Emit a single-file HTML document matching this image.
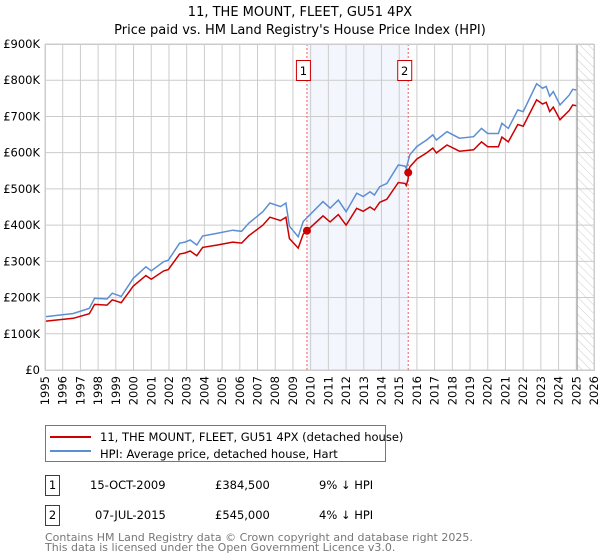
<!DOCTYPE html>
<html><head><meta charset="utf-8"><style>
body{margin:0;background:#fff;font-family:"Liberation Sans","DejaVu Sans",sans-serif;}
svg{display:block}
</style></head><body>
<svg id="chart" width="600" height="560" xmlns="http://www.w3.org/2000/svg" font-family="DejaVu Sans, Liberation Sans, sans-serif">
<defs><pattern id="hatch" width="6" height="6" patternUnits="userSpaceOnUse" patternTransform="rotate(-45)"><line x1="0" y1="0" x2="0" y2="6" stroke="#ccc" stroke-width="1"/></pattern></defs>
<text x="300" y="16" text-anchor="middle" font-size="13">11, THE MOUNT, FLEET, GU51 4PX</text>
<text x="300" y="34" text-anchor="middle" font-size="13">Price paid vs. HM Land Registry's House Price Index (HPI)</text>
<g id="grid"></g><g id="marks"></g>
<rect x="45.5" y="425.5" width="340" height="36" fill="#fff" stroke="#777"/>
<line x1="50" y1="437" x2="91" y2="437" stroke="#cc0000" stroke-width="2"/>
<text x="100" y="441" font-size="11.5">11, THE MOUNT, FLEET, GU51 4PX (detached house)</text>
<line x1="50" y1="451" x2="91" y2="451" stroke="#5b8fd4" stroke-width="2"/>
<text x="100" y="458" font-size="11.5">HPI: Average price, detached house, Hart</text>
<g font-size="11.5">
<rect x="45.5" y="475.5" width="14" height="20" fill="#fff" stroke="#cc0000"/><text x="52.5" y="489" text-anchor="middle">1</text>
<text x="90" y="489">15-OCT-2009</text><text x="215" y="489">£384,500</text><text x="319" y="489">9% ↓ HPI</text></g>
<g font-size="11.5">
<rect x="45.5" y="505.5" width="14" height="20" fill="#fff" stroke="#cc0000"/><text x="52.5" y="519" text-anchor="middle">2</text>
<text x="95" y="519">07-JUL-2015</text><text x="215" y="519">£545,000</text><text x="319" y="519">4% ↓ HPI</text></g>
<text x="45" y="541" font-size="11" fill="#777">Contains HM Land Registry data © Crown copyright and database right 2025.</text>
<text x="45" y="551" font-size="11" fill="#777">This data is licensed under the Open Government Licence v3.0.</text>
</svg>
<script>
const hpiYears=[1995,1996.6,1997.5,1997.8,1998.5,1998.8,1999.3,1999.98,2000.7,2001.0,2001.7,2001.96,2002.6,2002.9,2003.2,2003.57,2003.9,2004.7,2005.6,2006.1,2006.5,2007.3,2007.7,2008.3,2008.6,2008.8,2009.3,2009.58,2010.7,2011.1,2011.56,2012.0,2012.6,2012.97,2013.35,2013.6,2013.9,2014.3,2014.95,2015.33,2015.4,2015.6,2016.0,2016.55,2016.9,2017.1,2017.7,2018.4,2019.2,2019.65,2020.0,2020.6,2020.8,2021.16,2021.7,2022.0,2022.76,2023.1,2023.3,2023.5,2023.7,2024.08,2024.6,2024.8,2025.0];
const hpiValues=[147,156,170,198,196,212,203,253,285,274,299,303,350,353,359,345,370,377,386,383,405,437,461,451,461,397,368,410,465,447,469,437,488,479,492,483,506,515,566,563,557,594,617,635,649,635,658,640,644,667,653,653,681,667,718,713,790,778,783,756,769,732,759,775,773];
const saleDates=[2009.79,2015.51];
const salePrices=[384.5,545];
const saleLabels=["1","2"];
const yTicks=[0,100,200,300,400,500,600,700,800,900];
const yTickLabels=["£0","£100K","£200K","£300K","£400K","£500K","£600K","£700K","£800K","£900K"];
const xTicks=[1995,1996,1997,1998,1999,2000,2001,2002,2003,2004,2005,2006,2007,2008,2009,2010,2011,2012,2013,2014,2015,2016,2017,2018,2019,2020,2021,2022,2023,2024,2025,2026];
const NS="http://www.w3.org/2000/svg";
const X0=45,X1=594,Y0=370,Y1=44;
const xs=t=>X0+(t-1995)/(2026-1995)*(X1-X0);
const ys=v=>Y0-v/900*(Y0-Y1);
function mk(tag,attrs,parent){const e=document.createElementNS(NS,tag);for(const k in attrs)e.setAttribute(k,attrs[k]);parent.appendChild(e);return e;}
const grid=document.getElementById('grid'),marks=document.getElementById('marks');
function hpiAt(t){for(let i=1;i<hpiYears.length;i++){if(t<=hpiYears[i]){const f=(t-hpiYears[i-1])/(hpiYears[i]-hpiYears[i-1]);return hpiValues[i-1]+f*(hpiValues[i]-hpiValues[i-1]);}}return hpiValues[hpiValues.length-1];}
const sh=mk('rect',{x:xs(saleDates[0]),y:Y1,width:xs(saleDates[1])-xs(saleDates[0]),height:Y0-Y1,fill:'#f3f6fd'},grid);


const ht=mk('rect',{x:xs(2025.05),y:Y1,width:X1-xs(2025.05),height:Y0-Y1,fill:'url(#hatch)'},grid);


yTicks.forEach((v,i)=>{
 const l=mk('line',{x1:X0,x2:X1,y1:ys(v),y2:ys(v),stroke:'#ccc'},grid);
 
 
 const t=mk('text',{x:40,y:ys(v)+4,'text-anchor':'end','font-size':'11.5'},grid);t.textContent=yTickLabels[i];
 
 
});
xTicks.forEach(yr=>{
 const l=mk('line',{x1:xs(yr),x2:xs(yr),y1:Y1,y2:Y0,stroke:'#ccc'},grid);
 
 
 const t=mk('text',{x:0,y:0,'text-anchor':'end','font-size':'11.5',transform:`translate(${xs(yr)+4},${Y0+6}) rotate(-90)`},grid);t.textContent=yr;
 
 
});
const bl=mk('line',{x1:xs(2025.05),x2:xs(2025.05),y1:Y1,y2:Y0,stroke:'#999'},grid);


saleDates.forEach((d,i)=>{
 const l=mk('line',{x1:xs(d),x2:xs(d),y1:Y1,y2:Y0,stroke:'#f06060','stroke-dasharray':'2,2'},marks);
 
 
 const r=mk('rect',{x:xs(d)-10.5,y:60.5,width:14,height:20,fill:'#fff',stroke:'#cc0000'},marks);
 
 
 const t=mk('text',{x:xs(d)-3.5,y:75,'text-anchor':'middle','font-size':'11.5'},marks);t.textContent=saleLabels[i];
 
 
});
let d='';hpiYears.forEach((t,i)=>{d+=(i?'L':'M')+xs(t).toFixed(1)+','+ys(hpiValues[i]).toFixed(1);});
const hp=mk('path',{d:d,fill:'none',stroke:'#5b8fd4','stroke-width':1.5},marks);


function propAt(t,v){let k=0;if(t>=saleDates[1])k=1;return v*salePrices[k]/hpiAt(saleDates[k]);}
let pts=[];hpiYears.forEach((t,i)=>{
 if(i>0){saleDates.forEach((sd,k)=>{if(hpiYears[i-1]<sd&&t>=sd){pts.push([sd-0.001,propAt(sd-0.001,hpiAt(sd))]);pts.push([sd,salePrices[k]]);}});}
 pts.push([t,propAt(t,hpiValues[i])]);
});
let d2='';pts.forEach((p,i)=>{d2+=(i?'L':'M')+xs(p[0]).toFixed(1)+','+ys(p[1]).toFixed(1);});
const pp=mk('path',{d:d2,fill:'none',stroke:'#cc0000','stroke-width':1.5},marks);


saleDates.forEach((sd,k)=>{
 const c=mk('circle',{cx:xs(sd),cy:ys(salePrices[k]),r:4,fill:'#cc0000'},marks);
 
 
});
const fr=mk('rect',{x:X0+0.5,y:Y1+0.5,width:X1-X0,height:Y0-Y1,fill:'none',stroke:'#ccc'},marks);


</script>
</body></html>
